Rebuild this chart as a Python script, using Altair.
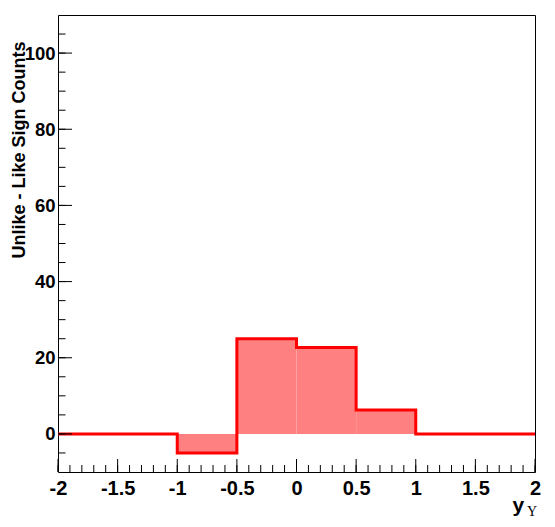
import altair as alt
import pandas as pd

# Histogram bins (y_Upsilon) and contents (Unlike - Like sign counts)
bin_lo = [-2.0, -1.5, -1.0, -0.5, 0.0, 0.5, 1.0, 1.5]
bin_hi = [-1.5, -1.0, -0.5, 0.0, 0.5, 1.0, 1.5, 2.0]
counts = [0.0, 0.0, -5.0, 25.0, 22.7, 6.3, 0.0, 0.0]

# axis ticks / labels
x_major = [-2.0, -1.5, -1.0, -0.5, 0.0, 0.5, 1.0, 1.5, 2.0]
x_minor = [round(-2.0 + 0.1 * i, 1) for i in range(41)]
y_major = [0, 20, 40, 60, 80, 100]
y_minor = [-5, 0, 5, 10, 15, 20, 25, 30, 35, 40, 45, 50, 55, 60, 65, 70, 75,
           80, 85, 90, 95, 100, 105]

y_title = "Unlike - Like Sign Counts"
x_title_main = "y"
x_title_sub = "Υ"

W, H = 477, 457
FONT = "Liberation Sans"

xs = alt.Scale(domain=[-2, 2], nice=False, zero=False)
ys = alt.Scale(domain=[-10, 110], nice=False, zero=False)

hist = pd.DataFrame({"lo": bin_lo, "hi": bin_hi, "v": counts, "z": [0.0] * len(counts)})
outline = pd.DataFrame({"x": bin_lo + [bin_hi[-1]], "v": counts + [counts[-1]]})

x_axis = alt.Axis(values=x_major, labelExpr="toString(datum.value)", ticks=False,
                  domain=False, grid=False, labelFont=FONT, labelFontSize=20,
                  labelFontWeight="bold", labelColor="black", labelPadding=6,
                  title=None, labelFlush=False, labelOverlap=False)
y_axis = alt.Axis(values=y_major, ticks=False, domain=False, grid=False,
                  labelFont=FONT, labelFontSize=18.5, labelFontWeight="bold",
                  labelColor="black", labelPadding=3, title=y_title,
                  titleFont=FONT, titleFontSize=18, titleFontWeight="bold",
                  titleColor="black", titleAngle=270, titleAlign="right",
                  titleBaseline="alphabetic", titleX=-33.5, titleY=26)

fill = alt.Chart(hist).mark_rect(color="#ff8080", strokeWidth=0).encode(
    x=alt.X("lo:Q", scale=xs, axis=x_axis),
    x2="hi:Q",
    y=alt.Y("v:Q", scale=ys, axis=y_axis),
    y2="z:Q",
)

line = alt.Chart(outline).mark_line(color="#ff0000", strokeWidth=3,
                                    interpolate="step-after").encode(
    x=alt.X("x:Q", scale=xs),
    y=alt.Y("v:Q", scale=ys),
)

ymaj = alt.Chart(pd.DataFrame({"t": y_major})).mark_rule(color="black", strokeWidth=1).encode(
    y=alt.Y("t:Q", scale=ys), x=alt.value(0), x2=alt.value(14))
ymin = alt.Chart(pd.DataFrame({"t": y_minor})).mark_rule(color="black", strokeWidth=1).encode(
    y=alt.Y("t:Q", scale=ys), x=alt.value(0), x2=alt.value(7.5))
xmaj = alt.Chart(pd.DataFrame({"t": x_major})).mark_rule(color="black", strokeWidth=1).encode(
    x=alt.X("t:Q", scale=xs), y=alt.value(H), y2=alt.value(H - 13))
xmin = alt.Chart(pd.DataFrame({"t": x_minor})).mark_rule(color="black", strokeWidth=1).encode(
    x=alt.X("t:Q", scale=xs), y=alt.value(H), y2=alt.value(H - 7))

t_main = alt.Chart(pd.DataFrame({"s": [x_title_main]})).mark_text(
    font=FONT, fontSize=21, fontWeight="bold", color="black", align="left",
    baseline="alphabetic").encode(text="s:N", x=alt.value(454.5), y=alt.value(497))
t_sub = alt.Chart(pd.DataFrame({"s": [x_title_sub]})).mark_text(
    font="Liberation Serif", fontSize=14, color="black", align="left",
    baseline="alphabetic").encode(text="s:N", x=alt.value(469), y=alt.value(501))

chart = alt.layer(fill, line, ymin, ymaj, xmin, xmaj, t_main, t_sub).properties(
    width=W, height=H,
    autosize=alt.AutoSizeParams(type="none"),
    padding={"left": 50, "top": 7, "right": 12, "bottom": 47},
    background="white",
).configure_view(stroke="black", strokeWidth=1)

chart.save("out.html", embed_options={"renderer": "svg", "actions": False})
